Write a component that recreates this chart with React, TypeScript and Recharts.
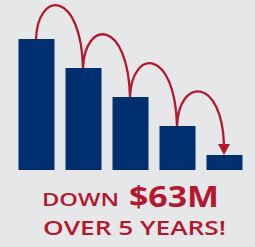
import React from 'react';
import { ComposedChart, Bar, Line, XAxis, YAxis } from 'recharts';

// yearly spend, $M (drop of ~63 over 5 years)
const years = ['Y1', 'Y2', 'Y3', 'Y4', 'Y5'];
const spend = [71.2, 55.4, 39.7, 23.9, 8.2];

const data = years.map((year, i) => ({ year, spend: spend[i] }));

const NAVY = '#00306f';
const RED = '#b3182f';
const BG = '#e6e7e9';
const ARROW = 10;

// hop-arc curve: each segment jumps from one bar top to the next
const hopCurve = (context: any) => {
  let pts: number[][] = [];
  return {
    areaStart() {},
    areaEnd() {},
    lineStart() {
      pts = [];
    },
    lineEnd() {
      if (!pts.length) return;
      context.moveTo(pts[0][0], pts[0][1]);
      for (let i = 1; i < pts.length; i++) {
        const [x0, y0] = pts[i - 1];
        const [x1, yEnd] = pts[i];
        const y1 = i === pts.length - 1 ? yEnd - ARROW : yEnd;
        const lift = 49;
        context.bezierCurveTo(x0 + 2, y0 - lift, x1 - 2, y0 - lift, x1, y1);
      }
    },
    point(x: number, y: number) {
      pts.push([x, y]);
    },
  };
};

const ArrowDot = (props: any) => {
  const { cx, cy, index } = props;
  if (index !== spend.length - 1) return <g key={`d-${index}`} />;
  return (
    <polygon
      key={`d-${index}`}
      points={`${cx},${cy} ${cx - 6},${cy - ARROW - 1} ${cx + 6},${cy - ARROW - 1}`}
      fill={RED}
    />
  );
};

export default function App() {
  return (
    <div style={{ position: 'fixed', top: 0, left: 0, width: 255, height: 247, background: BG }}>
      <ComposedChart
        width={255}
        height={170}
        data={data}
        margin={{ top: 22.8, right: 7.5, bottom: 0, left: 12.5 }}
      >
        <XAxis dataKey="year" hide />
        <YAxis hide domain={[0, 80]} />
        <Bar dataKey="spend" fill={NAVY} barSize={36} isAnimationActive={false} />
        <Line
          dataKey="spend"
          type={hopCurve as any}
          stroke={RED}
          strokeWidth={2.3}
          dot={ArrowDot}
          activeDot={false}
          isAnimationActive={false}
        />
      </ComposedChart>
      <svg width={255} height={247} style={{ position: 'absolute', top: 0, left: 0 }}>
        <g fill={RED} fontFamily="'Open Sans', sans-serif">
          <text x={42} y={206} fontSize={18} fontWeight={600} textLength={77} lengthAdjust="spacingAndGlyphs">
            DOWN
          </text>
          <text x={129} y={207} fontSize={29} fontWeight={700} textLength={90} lengthAdjust="spacingAndGlyphs">
            $63M
          </text>
          <text x={43} y={235} fontSize={19.5} fontWeight={600} textLength={183} lengthAdjust="spacingAndGlyphs">
            OVER 5 YEARS!
          </text>
        </g>
      </svg>
    </div>
  );
}
